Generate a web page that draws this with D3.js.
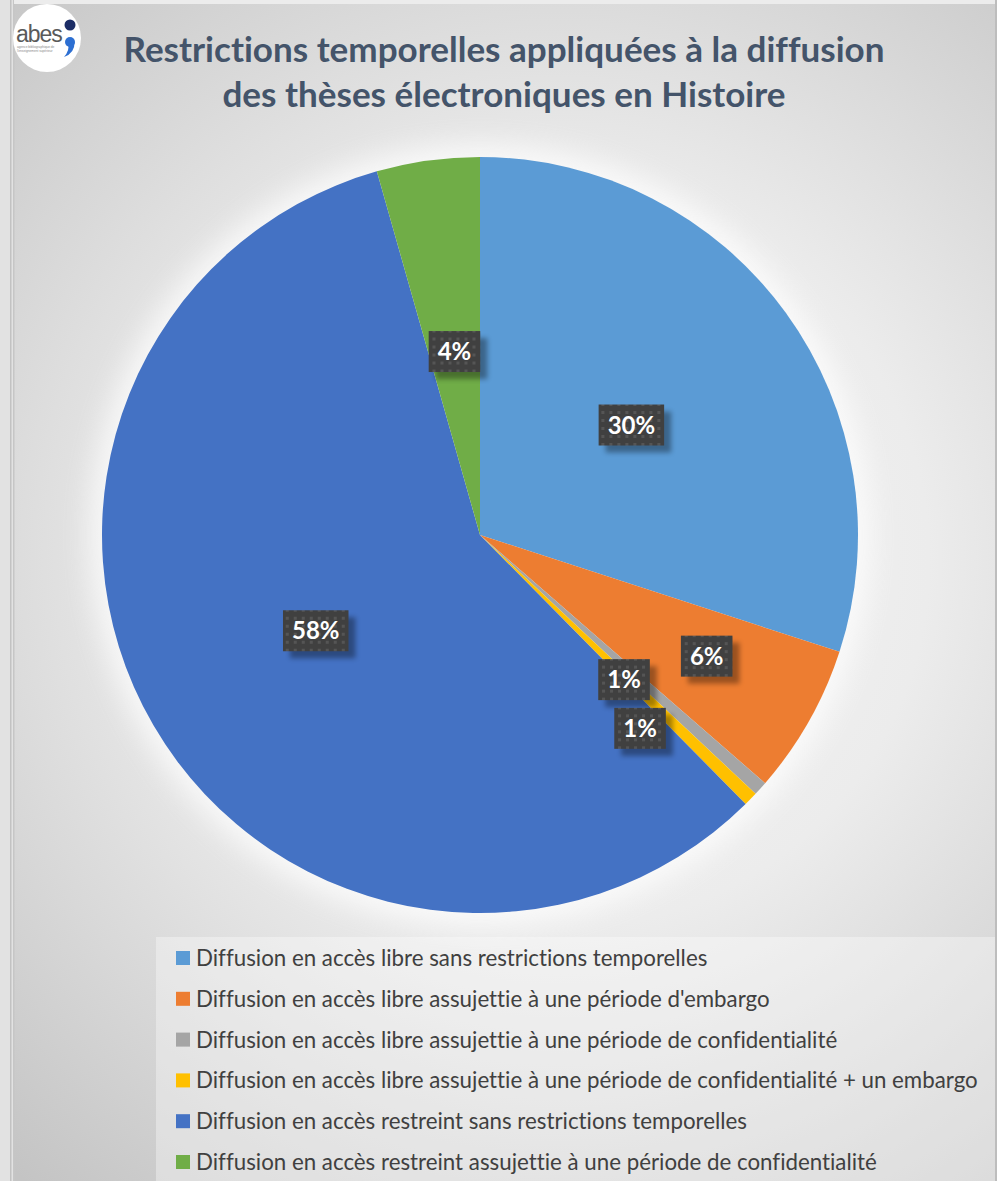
<!DOCTYPE html>
<html><head><meta charset="utf-8">
<script src="https://cdn.jsdelivr.net/npm/d3@7"></script>
<style>html,body{margin:0;padding:0;background:#fff;}svg{display:block;}text{font-variant-ligatures:none;font-feature-settings:"liga" 0,"clig" 0;}</style>
</head><body>
<script>
// ---- data ----
const categories = [
  "Diffusion en accès libre sans restrictions temporelles",
  "Diffusion en accès libre assujettie à une période d'embargo",
  "Diffusion en accès libre assujettie à une période de confidentialité",
  "Diffusion en accès libre assujettie à une période de confidentialité + un embargo",
  "Diffusion en accès restreint sans restrictions temporelles",
  "Diffusion en accès restreint assujettie à une période de confidentialité"
];
const values = [30, 6.4, 0.6, 0.6, 58, 4.4];
const valueLabels = ["30%", "6%", "1%", "1%", "58%", "4%"];
const colors = ["#5B9BD5", "#ED7D31", "#A5A5A5", "#FFC000", "#4472C4", "#70AD47"];
const titleLines = ["Restrictions temporelles appliquées à la diffusion", "des thèses électroniques en Histoire"];

// ---- layout (styling) ----
const W = 997, H = 1181;
const cx = 480, cy = 535, R = 378;
const labelRadius = [0.495, 0.68, 0.54, 0.664, 0.503, 0.49];
const labelShiftDeg = [0, -1.4, 3.0, 6.1, 0, 0];

const svg = d3.select("body").append("svg").attr("width", W).attr("height", H);
const defs = svg.append("defs");

const bg = defs.append("radialGradient").attr("id", "bg")
  .attr("gradientUnits", "userSpaceOnUse").attr("cx", 560).attr("cy", 560).attr("r", 820);
bg.append("stop").attr("offset", 0).attr("stop-color", "#f7f7f7");
bg.append("stop").attr("offset", 0.45).attr("stop-color", "#ececec");
bg.append("stop").attr("offset", 1).attr("stop-color", "#c4c4c4");

const glow = defs.append("filter").attr("id", "glow").attr("x", -0.3).attr("y", -0.3).attr("width", 1.6).attr("height", 1.6);
glow.append("feGaussianBlur").attr("stdDeviation", 14);

const sh = defs.append("filter").attr("id", "sh").attr("x", -0.5).attr("y", -0.5).attr("width", 2).attr("height", 2);
sh.append("feGaussianBlur").attr("stdDeviation", 2.5);

const pat = defs.append("pattern").attr("id", "dots").attr("patternUnits", "userSpaceOnUse")
  .attr("width", 8).attr("height", 8);
pat.append("rect").attr("width", 8).attr("height", 8).attr("fill", "#404040");
pat.append("rect").attr("x", 2).attr("y", 2).attr("width", 3).attr("height", 3).attr("fill", "#555555");

// background
svg.append("rect").attr("width", W).attr("height", H).attr("fill", "#e2e2e2");
svg.append("rect").attr("x", 14).attr("y", 4).attr("width", W - 16).attr("height", H - 4).attr("fill", "url(#bg)");
svg.append("rect").attr("x", 10).attr("y", 0).attr("width", 1.5).attr("height", H).attr("fill", "#c2c2c2");
svg.append("rect").attr("x", 13).attr("y", 0).attr("width", 1.5).attr("height", H).attr("fill", "#c6c6c6");
svg.append("rect").attr("x", W - 2).attr("y", 0).attr("width", 2).attr("height", H).attr("fill", "#bdbdbd");
svg.append("rect").attr("x", 14).attr("y", 0).attr("width", W - 16).attr("height", 4).attr("fill", "#ececec");

// glow behind pie
svg.append("circle").attr("cx", cx).attr("cy", cy).attr("r", R + 12).attr("fill", "#ffffff")
  .attr("opacity", 0.75).attr("filter", "url(#glow)");

// logo
const logo = svg.append("g");
logo.append("circle").attr("cx", 47).attr("cy", 38).attr("r", 34).attr("fill", "#ffffff");
logo.append("text").attr("x", 16).attr("y", 42).attr("font-family", "Liberation Sans Narrow, Liberation Sans, Arial").attr("font-size", 23)
  .attr("fill", "#5a5a5a").attr("letter-spacing", -1).text("abes");
logo.append("text").attr("x", 17).attr("y", 48).attr("font-family", "Liberation Sans, Arial").attr("font-size", 3.2)
  .attr("fill", "#888").text("agence bibliographique de");
logo.append("text").attr("x", 17).attr("y", 52).attr("font-family", "Liberation Sans, Arial").attr("font-size", 3.2)
  .attr("fill", "#888").text("l'enseignement supérieur");
logo.append("circle").attr("cx", 70).attr("cy", 25).attr("r", 5.5).attr("fill", "#1c2d66");
logo.append("circle").attr("cx", 70).attr("cy", 42).attr("r", 5).attr("fill", "#2d6fd2");
logo.append("path").attr("d", "M74.5,42 Q75,53 64,57 Q70,50 68,44 Z").attr("fill", "#2d6fd2");

// title
function fitSize(text, family, weight, width) {
  const t = svg.append("text").attr("font-family", family).attr("font-weight", weight).attr("font-size", 100).text(text);
  const w = t.node().getComputedTextLength();
  t.remove();
  return 100 * width / w;
}
const titleFamily = "Lato, 'Open Sans', sans-serif";
const titleSize = fitSize(titleLines[0], titleFamily, "bold", 761);
svg.selectAll("text.title").data(titleLines).join("text").attr("class", "title")
  .attr("x", 504).attr("y", (d, i) => 62 + i * 45)
  .attr("text-anchor", "middle").attr("font-family", titleFamily).attr("font-weight", "bold")
  .attr("font-size", titleSize).attr("fill", "#44546A").text(d => d);

// pie
const pie = d3.pie().sort(null).value(d => d)(values);
const arc = d3.arc().innerRadius(0).outerRadius(R);
const g = svg.append("g").attr("transform", `translate(${cx},${cy})`);
g.selectAll("path").data(pie).join("path").attr("d", arc).attr("fill", (d, i) => colors[i]);

// labels
const labelFamily = "Lato, 'Open Sans', sans-serif";
const lg = g.selectAll("g.lab").data(pie).join("g").attr("class", "lab")
  .attr("transform", (d, i) => {
    const a = (d.startAngle + d.endAngle) / 2 + labelShiftDeg[i] * Math.PI / 180;
    const r = R * labelRadius[i];
    return `translate(${r * Math.sin(a)},${-r * Math.cos(a)})`;
  });
lg.each(function(d, i) {
  const sel = d3.select(this);
  const t = sel.append("text").attr("text-anchor", "middle").attr("y", 8.5)
    .attr("font-family", labelFamily).attr("font-weight", "bold").attr("font-size", 24)
    .attr("fill", "#ffffff").text(valueLabels[i]);
  const w = t.node().getComputedTextLength() + 18, h = 41;
  sel.insert("rect", "text").attr("x", -w / 2 + 7).attr("y", -h / 2 + 7).attr("width", w).attr("height", h)
    .attr("fill", "#000").attr("opacity", 0.35).attr("filter", "url(#sh)");
  sel.insert("rect", "text").attr("x", -w / 2).attr("y", -h / 2).attr("width", w).attr("height", h)
    .attr("fill", "url(#dots)");
});

// legend
svg.append("rect").attr("x", 156).attr("y", 937).attr("width", W - 158).attr("height", H - 937)
  .attr("fill", "#ffffff").attr("opacity", 0.35);
const legFamily = "Lato, 'Open Sans', sans-serif";
const legSize = fitSize(categories[3], legFamily, "normal", 782);
const y = d3.scalePoint().domain(d3.range(categories.length)).range([958, 1162]);
const leg = svg.selectAll("g.leg").data(categories).join("g").attr("class", "leg")
  .attr("transform", (d, i) => `translate(176,${y(i)})`);
leg.append("rect").attr("x", 0).attr("y", -7).attr("width", 14).attr("height", 14).attr("fill", (d, i) => colors[i]);
leg.append("text").attr("x", 20).attr("y", legSize * 0.36).attr("font-family", legFamily)
  .attr("font-size", legSize).attr("fill", "#404040").text(d => d);
</script>
</body></html>
